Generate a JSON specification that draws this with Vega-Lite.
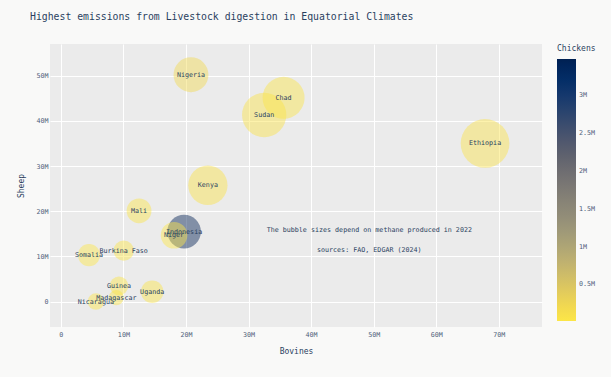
{
  "$schema": "https://vega.github.io/schema/vega-lite/v6.json",
  "autosize": {"type": "none"},
  "padding": {"left": 50, "top": 44, "right": 69, "bottom": 50},
  "width": 492,
  "height": 283,
  "background": "#f9f9f8",
  "title": {
    "text": "Highest emissions from Livestock digestion in Equatorial Climates",
    "anchor": "start",
    "frame": "group",
    "dx": -20,
    "offset": 22,
    "font": "DejaVu Sans Mono",
    "fontSize": 9.8,
    "fontWeight": "normal",
    "color": "#2a3f5f"
  },
  "config": {
    "view": {"fill": "#ebebeb", "stroke": null},
    "axis": {
      "grid": true,
      "gridColor": "#ffffff",
      "gridWidth": 1,
      "domain": false,
      "ticks": false,
      "labelFont": "DejaVu Sans Mono",
      "labelFontSize": 6.7,
      "labelColor": "#4d5d78",
      "titleFont": "DejaVu Sans Mono",
      "titleFontSize": 8,
      "titleFontWeight": "normal",
      "titleColor": "#2a3f5f"
    },
    "legend": {
      "titleFont": "DejaVu Sans Mono",
      "labelFont": "DejaVu Sans Mono"
    }
  },
  "datasets": {
    "countries": [
      {"country": "Ethiopia", "bovines": 67800000, "sheep": 35000000, "chickens": 57000, "methane": 2269},
      {"country": "Sudan", "bovines": 32500000, "sheep": 41300000, "chickens": 50000, "methane": 1875},
      {"country": "Chad", "bovines": 35600000, "sheep": 45100000, "chickens": 40000, "methane": 1685},
      {"country": "Kenya", "bovines": 23500000, "sheep": 25750000, "chickens": 50000, "methane": 1479},
      {"country": "Nigeria", "bovines": 20800000, "sheep": 50200000, "chickens": 200000, "methane": 1164},
      {"country": "Indonesia", "bovines": 19700000, "sheep": 15500000, "chickens": 3480000, "methane": 1083},
      {"country": "Niger", "bovines": 18100000, "sheep": 14700000, "chickens": 20000, "methane": 675},
      {"country": "Mali", "bovines": 12500000, "sheep": 20100000, "chickens": 45000, "methane": 588},
      {"country": "Uganda", "bovines": 14600000, "sheep": 2200000, "chickens": 48000, "methane": 484},
      {"country": "Somalia", "bovines": 4500000, "sheep": 10300000, "chickens": 15000, "methane": 469},
      {"country": "Burkina Faso", "bovines": 10050000, "sheep": 11300000, "chickens": 45000, "methane": 397},
      {"country": "Guinea", "bovines": 9300000, "sheep": 3500000, "chickens": 30000, "methane": 331},
      {"country": "Nicaragua", "bovines": 5600000, "sheep": 20000, "chickens": 28000, "methane": 259},
      {"country": "Madagascar", "bovines": 8870000, "sheep": 900000, "chickens": 40000, "methane": 217}
    ],
    "notes": [
      {"x": 49300000, "y": 15800000, "text": "The bubble sizes depend on methane produced in 2022"},
      {"x": 49300000, "y": 11400000, "text": "sources: FAO, EDGAR (2024)"}
    ]
  },
  "layer": [
    {
      "data": {"name": "countries"},
      "mark": {"type": "circle", "fillOpacity": 0.45, "opacity": 1, "strokeWidth": 0},
      "encoding": {
        "x": {
          "field": "bovines", "type": "quantitative", "title": "Bovines",
          "scale": {"domain": [-1730000, 76900000], "nice": false, "zero": false},
          "axis": {
            "values": [0, 10000000, 20000000, 30000000, 40000000, 50000000, 60000000, 70000000],
            "labelExpr": "datum.value == 0 ? '0' : (datum.value / 1000000) + 'M'",
            "labelPadding": 4,
            "titlePadding": 10
          }
        },
        "y": {
          "field": "sheep", "type": "quantitative", "title": "Sheep",
          "scale": {"domain": [-5600000, 57000000], "nice": false, "zero": false},
          "axis": {
            "values": [0, 10000000, 20000000, 30000000, 40000000, 50000000],
            "labelExpr": "datum.value == 0 ? '0' : (datum.value / 1000000) + 'M'",
            "labelPadding": 2,
            "titlePadding": 10
          }
        },
        "size": {
          "field": "methane", "type": "quantitative",
          "scale": {"type": "linear", "domain": [0, 3000], "range": [0, 3141.6], "zero": true},
          "legend": null
        },
        "color": {
          "field": "chickens", "type": "quantitative", "title": "Chickens",
          "scale": {"scheme": "cividis", "reverse": true, "nice": false, "zero": false},
          "legend": {
            "orient": "none",
            "legendX": 507,
            "legendY": 1,
            "direction": "vertical",
            "gradientLength": 262,
            "gradientThickness": 19,
            "gradientStrokeWidth": 0,
            "values": [500000, 1000000, 1500000, 2000000, 2500000, 3000000],
            "labelExpr": "(datum.value / 1000000) + 'M'",
            "labelFontSize": 6.7,
            "labelColor": "#4d5d78",
            "labelOffset": 3,
            "titleFontSize": 8,
            "titleFontWeight": "normal",
            "titleColor": "#2a3f5f",
            "titlePadding": 6,
            "padding": 0
          }
        }
      }
    },
    {
      "data": {"name": "countries"},
      "mark": {"type": "text", "font": "DejaVu Sans Mono", "fontSize": 6.7, "color": "#2a3f5f", "align": "center", "baseline": "middle"},
      "encoding": {
        "x": {"field": "bovines", "type": "quantitative"},
        "y": {"field": "sheep", "type": "quantitative"},
        "text": {"field": "country"}
      }
    },
    {
      "data": {"name": "notes"},
      "mark": {"type": "text", "font": "DejaVu Sans Mono", "fontSize": 6.7, "color": "#2a3f5f", "align": "center", "baseline": "middle"},
      "encoding": {
        "x": {"field": "x", "type": "quantitative"},
        "y": {"field": "y", "type": "quantitative"},
        "text": {"field": "text"}
      }
    }
  ]
}
